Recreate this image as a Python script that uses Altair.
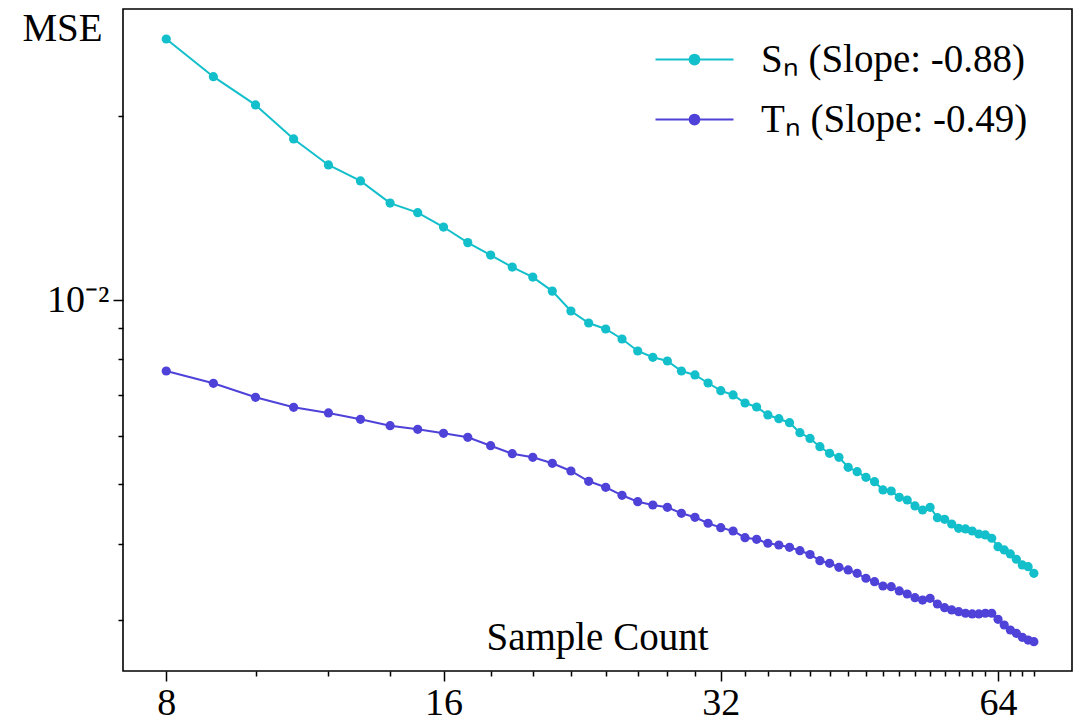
import altair as alt
import pandas as pd

sample_count = list(range(8, 71))

sn_mse = [0.02670, 0.02317, 0.02083, 0.01833, 0.01662, 0.01565, 0.01440, 0.01389,
          0.01316, 0.01241, 0.01184, 0.01132, 0.01090, 0.01034, 0.009595, 0.009171,
          0.008966, 0.008635, 0.008254, 0.008061, 0.007949, 0.007656, 0.007542, 0.007318,
          0.007109, 0.006995, 0.006787, 0.006686, 0.006488, 0.006398, 0.006302, 0.006070,
          0.005939, 0.005758, 0.005617, 0.005533, 0.005329, 0.005241, 0.005132, 0.005048,
          0.004893, 0.004874, 0.004760, 0.004712, 0.004607, 0.004538, 0.004584, 0.004409,
          0.004382, 0.004305, 0.004236, 0.004225, 0.004193, 0.004146, 0.004131, 0.004080,
          0.003953, 0.003904, 0.003846, 0.003770, 0.003690, 0.003666, 0.003576]

tn_mse = [0.007656, 0.007310, 0.006934, 0.006678, 0.006537, 0.006384, 0.006232, 0.006148,
          0.006056, 0.005966, 0.005780, 0.005609, 0.005533, 0.005410, 0.005255, 0.005055,
          0.004943, 0.004796, 0.004682, 0.004624, 0.004584, 0.004482, 0.004415, 0.004317,
          0.004246, 0.004193, 0.004089, 0.004064, 0.004004, 0.003978, 0.003944, 0.003894,
          0.003838, 0.003750, 0.003713, 0.003658, 0.003621, 0.003576, 0.003510, 0.003465,
          0.003409, 0.003400, 0.003346, 0.003308, 0.003263, 0.003234, 0.003255, 0.003186,
          0.003142, 0.003115, 0.003095, 0.003077, 0.003069, 0.003069, 0.003077, 0.003077,
          0.003008, 0.002944, 0.002889, 0.002853, 0.002811, 0.002782, 0.002765]

series_labels = ["Sₙ (Slope: -0.88)", "Tₙ (Slope: -0.49)"]
series_colors = ["#13BFCA", "#4F42D8"]

x_major_ticks = [8, 16, 32, 64]
x_minor_ticks = [10, 12, 14, 18, 20, 22, 24, 26, 28, 30, 34, 36, 38, 40, 42, 44, 46,
                 48, 50, 52, 54, 56, 58, 60, 62, 66, 68, 70]
y_major_ticks = [0.01]
y_minor_ticks = [0.003, 0.004, 0.005, 0.006, 0.007, 0.008, 0.009, 0.02]

rows = []
for n, s in zip(sample_count, sn_mse):
    rows.append({"n": n, "mse": s, "series": series_labels[0]})
for n, t in zip(sample_count, tn_mse):
    rows.append({"n": n, "mse": t, "series": series_labels[1]})
df = pd.DataFrame(rows)

FONT = "Liberation Serif"
FS_TICK = 38
FS_TEXT = 39

major_x_test = "indexof(" + str(x_major_ticks) + ", datum.value) >= 0"

x_enc = alt.X(
    "n:Q",
    scale=alt.Scale(type="log", base=2, domain=[7.18, 77.0], nice=False, zero=False),
    axis=alt.Axis(
        values=x_major_ticks + x_minor_ticks,
        format="d",
        labelExpr=major_x_test + " ? datum.label : ''",
        tickSize={"condition": {"test": major_x_test, "value": 10}, "value": 5},
        grid=False, domain=False,
        tickColor="black", tickWidth=1.5,
        labelFont=FONT, labelFontSize=FS_TICK, labelColor="black", labelPadding=3,
        title="Sample Count", titleFont=FONT, titleFontSize=FS_TEXT, titleFontWeight="normal",
        titleColor="black", titleX=474, titleY=-34, titleBaseline="middle", titleAlign="center",
    ),
)

y_enc = alt.Y(
    "mse:Q",
    scale=alt.Scale(type="log", domain=[0.002476, 0.02989], nice=False, zero=False),
    axis=alt.Axis(
        values=y_major_ticks + y_minor_ticks,
        labelExpr="datum.value == 0.01 ? '10⁻²' : ''",
        tickSize={"condition": {"test": "datum.value == 0.01", "value": 10}, "value": 5},
        grid=False, domain=False,
        tickColor="black", tickWidth=1.5,
        labelFont=FONT, labelFontSize=FS_TICK, labelColor="black", labelPadding=4,
        title="MSE", titleFont=FONT, titleFontSize=FS_TEXT, titleFontWeight="normal",
        titleColor="black", titleAngle=0, titleX=-61, titleY=19,
        titleBaseline="middle", titleAlign="center",
    ),
)

legend_symbol = "M-2,0H2M0.25,0A0.25,0.25,0,1,1,-0.25,0A0.25,0.25,0,1,1,0.25,0Z"
legend = alt.Legend(
    title=None, orient="none", legendX=551, legendY=30,
    symbolType=legend_symbol, symbolSize=1521, symbolStrokeWidth=2,
    labelFont=FONT, labelFontSize=FS_TEXT, labelColor="black", labelLimit=0,
    labelOffset=46, rowPadding=19, padding=0,
)

color_scale = alt.Scale(domain=series_labels, range=series_colors)

line = alt.Chart(df).mark_line(strokeWidth=2).encode(
    x=x_enc, y=y_enc,
    color=alt.Color("series:N", scale=color_scale, legend=legend),
    detail="series:N",
)
points = alt.Chart(df).mark_point(filled=True, size=85, opacity=1).encode(
    x=x_enc, y=y_enc,
    fill=alt.Fill("series:N", scale=color_scale, legend=legend),
)

chart = alt.layer(line, points).properties(
    width=949, height=662,
    background="white",
    padding={"left": 123, "top": 9, "right": 17, "bottom": 50},
    autosize=alt.AutoSizeParams(type="none"),
).configure_view(stroke="black", strokeWidth=1.6)

chart.save("out.html", embed_options={"renderer": "svg", "actions": False})
